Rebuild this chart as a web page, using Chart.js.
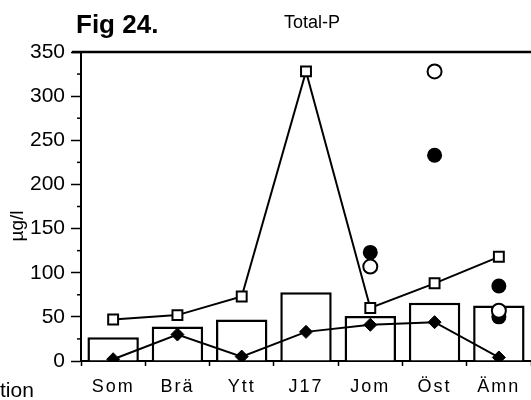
<!DOCTYPE html>
<html>
<head>
<meta charset="utf-8">
<script src="https://cdn.jsdelivr.net/npm/chart.js@4.4.0/dist/chart.umd.min.js"></script>
<style>
  body { margin: 0; background: #fff; overflow: hidden; }
  #wrap { width: 540px; height: 400px; position: relative; }
</style>
</head>
<body>
<div id="wrap"><canvas id="chartCanvas"></canvas></div>
<script>
// stations along the x axis
var stations = ['Som', 'Brä', 'Ytt', 'J17', 'Jom', 'Öst', 'Ämn'];

// bars (µg/l)
var barValues = [27, 39, 47, 78, 51, 66, 63];
// line with open squares
var squareValues = [47, 52, 73, 328, 60, 88, 118];
// line with filled diamonds
var diamondValues = [2, 30, 5, 33, 41, 44, 4];
// loose filled dots (two at Ämn)
var filledDots = [null, null, null, null, 123, 233, 85];
var filledDots2 = [null, null, null, null, null, null, 50];
// loose open dots
var openDots = [null, null, null, null, 107, 328, 57];

var yTicks = [0, 50, 100, 150, 200, 250, 300, 350];

var FONT = "'Liberation Sans', Helvetica, Arial, sans-serif";

// extra text, top rule and minor ticks
var extras = {
  id: 'extras',
  afterDraw: function (chart) {
    var ctx = chart.ctx;
    var y = chart.scales.y;
    var area = chart.chartArea;
    ctx.save();
    ctx.strokeStyle = '#000';
    // top rule
    ctx.lineWidth = 2.5;
    ctx.beginPath();
    ctx.moveTo(area.left - 9, area.top);
    ctx.lineTo(540, area.top);
    ctx.stroke();
    // minor ticks at 25, 75, ...
    ctx.lineWidth = 1.5;
    for (var v = 25; v < 350; v += 50) {
      var py = y.getPixelForValue(v);
      ctx.beginPath();
      ctx.moveTo(area.left - 4, py);
      ctx.lineTo(area.left, py);
      ctx.stroke();
    }
    ctx.fillStyle = '#000';
    ctx.textBaseline = 'alphabetic';
    ctx.textAlign = 'left';
    ctx.font = 'bold 26px ' + FONT;
    ctx.fillText('Fig 24.', 76, 33);
    ctx.font = '18px ' + FONT;
    ctx.fillText('Total-P', 284, 28);
    ctx.font = '21px ' + FONT;
    ctx.fillText('tion', 0, 397);
    // y axis title
    ctx.translate(18, 226);
    ctx.rotate(-Math.PI / 2);
    ctx.textAlign = 'center';
    ctx.textBaseline = 'middle';
    ctx.font = '19px ' + FONT;
    ctx.fillText('µg/l', 0, 0);
    ctx.restore();
  }
};

var ctx = document.getElementById('chartCanvas').getContext('2d');
var chart = new Chart(ctx, {
  type: 'bar',
  data: {
    labels: stations,
    datasets: [
      {
        type: 'line',
        data: openDots,
        showLine: false,
        pointStyle: 'circle',
        pointRadius: 7,
        pointBackgroundColor: '#fff',
        pointBorderColor: '#000',
        pointBorderWidth: 2,
        order: 1
      },
      {
        type: 'line',
        data: filledDots,
        showLine: false,
        pointStyle: 'circle',
        pointRadius: 7.5,
        pointBackgroundColor: '#000',
        pointBorderColor: '#000',
        pointBorderWidth: 0,
        order: 2
      },
      {
        type: 'line',
        data: filledDots2,
        showLine: false,
        pointStyle: 'circle',
        pointRadius: 7.5,
        pointBackgroundColor: '#000',
        pointBorderColor: '#000',
        pointBorderWidth: 0,
        order: 2
      },
      {
        type: 'line',
        data: squareValues,
        borderColor: '#000',
        borderWidth: 2,
        tension: 0,
        pointStyle: 'rect',
        pointRadius: 7,
        pointBackgroundColor: '#fff',
        pointBorderColor: '#000',
        pointBorderWidth: 2,
        order: 3
      },
      {
        type: 'line',
        data: diamondValues,
        borderColor: '#000',
        borderWidth: 2,
        tension: 0,
        pointStyle: 'rectRot',
        pointRadius: 6.5,
        pointBackgroundColor: '#000',
        pointBorderColor: '#000',
        pointBorderWidth: 1,
        order: 4
      },
      {
        type: 'bar',
        data: barValues,
        backgroundColor: '#fff',
        borderColor: '#000',
        borderWidth: 2.5,
        barPercentage: 0.8,
        categoryPercentage: 1.0,
        order: 10
      }
    ]
  },
  options: {
    responsive: true,
    maintainAspectRatio: false,
    animation: false,
    devicePixelRatio: 1,
    layout: { padding: { left: 0, right: 0, top: 52, bottom: 0 } },
    plugins: {
      legend: { display: false },
      tooltip: { enabled: false }
    },
    scales: {
      x: {
        offset: true,
        afterFit: function (s) { s.height = 39; },
        grid: {
          offset: true,
          drawOnChartArea: false,
          tickLength: 5,
          tickColor: '#000',
          tickWidth: 1.5
        },
        border: { color: '#000', width: 2 },
        ticks: {
          color: '#000',
          padding: 10,
          maxRotation: 0,
          font: { family: FONT, size: 18 }
        }
      },
      y: {
        min: 0,
        max: 350,
        afterFit: function (s) { s.width = 81; },
        afterBuildTicks: function (s) {
          s.ticks = yTicks.map(function (v) { return { value: v }; });
        },
        grid: {
          drawOnChartArea: false,
          tickLength: 10,
          tickColor: '#000',
          tickWidth: 1.5
        },
        border: { color: '#000', width: 2 },
        ticks: {
          color: '#000',
          padding: 6,
          font: { family: FONT, size: 21 }
        }
      }
    }
  },
  plugins: [extras]
});

// spaced-out station labels like the original typewriter-ish lettering
var xs = chart.scales.x;
var origDrawLabels = xs.drawLabels;
xs.drawLabels = function (area) {
  this.ctx.save();
  this.ctx.letterSpacing = '2px';
  origDrawLabels.call(this, area);
  this.ctx.restore();
};
chart.draw();
</script>
</body>
</html>
